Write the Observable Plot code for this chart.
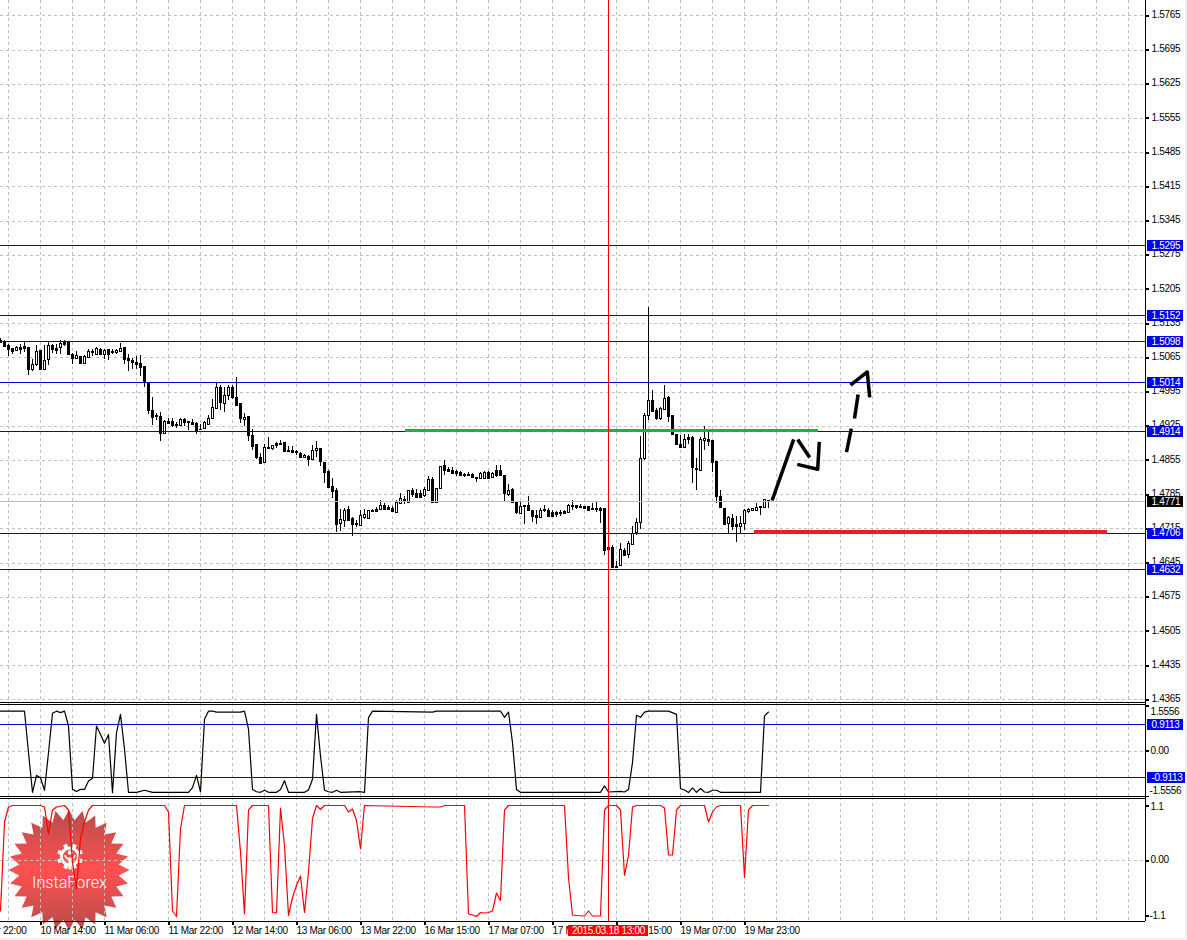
<!DOCTYPE html>
<html><head><meta charset="utf-8">
<script src="https://cdn.jsdelivr.net/npm/d3@7"></script>
<script src="https://cdn.jsdelivr.net/npm/@observablehq/plot@0.6"></script>
<style>
html,body{margin:0;padding:0;background:#fff;overflow:hidden}
#root{position:relative;width:1187px;height:940px;overflow:hidden;background:#fff}
#root svg.p{position:absolute;left:0}
.strip{position:absolute;background:#f0f0f0}
</style></head><body>
<div id="root">
<div class="strip" style="left:0;top:938px;width:1187px;height:2px"></div>
<div class="strip" style="left:1185px;top:0;width:2px;height:940px"></div>
</div>
<script>
// Candle values, in pips above 1.4000, one per hourly bar
const openPips=[1101,1097,1090,1084,1081,1086,1088,1087,1042,1051,
1079,1042,1061,1090,1084,1086,1097,1098,1072,1063,
1068,1053,1066,1078,1072,1082,1071,1082,1077,1076,
1077,1086,1064,1059,1055,1054,1048,1014,958,946,
945,911,935,935,929,926,939,935,933,931,
919,920,929,941,961,1005,971,988,1005,984,
971,939,944,907,887,862,850,882,880,889,
890,892,875,876,874,870,860,864,856,875,
880,851,833,802,794,726,732,755,737,726,
722,739,737,752,754,754,763,759,757,749,
767,775,769,794,787,787,783,794,816,769,
798,844,836,834,832,830,826,827,826,821,
819,819,830,820,834,835,825,786,796,769,
747,763,763,753,743,738,754,753,748,748,
749,750,748,763,762,761,761,761,756,757,
756,757,677,677,637,640,671,663,682,707,
728,858,947,978,958,940,959,984,947,909,
888,882,901,902,839,834,895,898,896,853,
781,757,725,736,723,719,725,750,752,753,
760,759,773];
const closePips=[1096,1089,1082,1078,1087,1083,1085,1042,1051,1077,
1041,1059,1090,1082,1081,1095,1093,1071,1064,1070,
1053,1068,1077,1075,1085,1072,1079,1072,1075,1080,
1084,1062,1059,1055,1051,1046,1014,958,942,944,
911,935,931,926,926,939,932,933,929,917,
918,933,941,963,1004,973,988,1004,984,968,
940,943,905,884,860,849,882,879,886,886,
887,873,873,872,871,862,866,856,876,880,
853,831,800,792,723,734,752,733,724,723,
742,745,752,750,751,763,755,755,750,769,
777,771,793,786,780,780,795,816,769,797,
842,835,832,828,829,825,825,825,820,819,
828,830,819,828,825,825,787,793,769,749,
761,761,752,741,739,753,752,741,741,744,
747,746,763,760,759,759,757,753,754,754,
752,671,673,635,635,673,660,685,705,728,
859,947,978,956,940,961,982,944,908,887,
882,898,898,840,836,897,899,893,851,782,
759,724,738,719,719,726,753,755,757,759,
759,775,771];
const highPips=[1104,1100,1093,1085,1089,1092,1097,1087,1062,1090,
1081,1090,1097,1092,1093,1100,1101,1098,1074,1078,
1068,1070,1083,1083,1086,1085,1083,1082,1082,1082,
1094,1087,1071,1064,1067,1070,1048,1014,984,951,
953,937,941,940,932,941,941,935,939,932,
929,935,946,980,1014,1008,1004,1008,1008,1025,
971,951,944,918,887,869,888,901,886,891,
896,892,884,883,875,872,868,865,885,894,
880,851,834,819,798,754,757,761,738,733,
753,754,753,754,758,772,767,763,760,772,
787,782,793,797,796,793,799,823,820,797,
842,854,840,840,834,832,828,830,828,821,
831,832,832,830,845,845,825,806,798,769,
769,763,782,753,753,756,763,756,752,750,
752,753,764,772,763,764,761,761,767,769,
758,757,678,680,648,684,675,689,719,736,
903,951,1167,999,961,963,1009,986,947,909,
907,909,909,903,859,901,925,914,896,853,
793,757,741,744,740,740,755,757,757,767,
761,775,774];
const lowPips=[1094,1086,1068,1072,1077,1072,1075,1028,1038,1047,
1040,1041,1050,1074,1072,1071,1089,1070,1052,1063,
1052,1052,1065,1067,1071,1070,1062,1060,1071,1072,
1075,1052,1036,1042,1042,1027,1004,948,926,936,
893,909,929,922,921,925,925,916,926,909,
917,918,928,939,959,958,954,978,980,966,
931,924,893,875,856,847,849,878,875,879,
886,872,871,869,865,860,858,843,855,862,
843,807,799,778,708,709,717,731,699,717,
720,735,735,748,748,752,753,752,749,746,
765,765,767,779,780,780,779,793,767,767,
797,825,830,826,823,823,821,823,819,810,
817,818,817,819,820,825,771,782,768,745,
744,724,750,727,723,737,749,738,738,738,
741,745,746,753,754,757,757,752,752,749,
726,661,672,633,633,639,658,654,681,701,
714,854,937,954,936,936,957,932,907,885,
880,881,887,807,794,832,876,883,830,766,
757,723,703,711,688,704,712,746,750,752,
743,759,757];

// Upper oscillator: bar index and value at each vertex
const oscBars=[0,6,7,8,9,10,11,12,13,14,15,16,17,18,19,20,21,22,23,24,25,26,27,28,29,30,31,32,34,36,38,47,48,49,50,51,52,53,54,60,61,62,63,64,65,66,67,69,70,71,72,76,77,78,79,80,81,82,83,84,85,90,91,92,93,108,109,125,126,127,128,129,130,150,151,152,155,156,157,158,159,160,161,162,167,169,170,171,172,173,174,175,176,177,178,179,180,190,191,192];
const oscVals=[1.38,1.38,-.05,-1.41,-.83,-.91,-1.34,-.05,1.31,1.38,1.33,1.38,.87,-1.31,-1.38,-1.31,-1.31,-1.02,-.93,.87,.58,.28,.58,-1.42,.64,1.27,.07,-1.41,-1.41,-1.34,-1.41,-1.41,-1.25,-.83,-1.40,1.10,1.38,1.38,1.35,1.35,1.38,.76,-1.31,-1.39,-1.41,-1.34,-1.41,-1.41,-1.31,-1.01,-1.41,-1.41,-1.33,-.96,1.27,-.16,-1.34,-1.39,-1.41,-1.34,-1.41,-1.39,-1.41,1.16,1.38,1.35,1.38,1.38,1.17,1.35,.30,-1.31,-1.41,-1.41,-1.19,-1.40,-1.38,-1.40,-1.31,-.39,1.24,1.17,1.35,1.38,1.38,1.27,-1.28,-1.33,-1.42,-1.26,-1.41,-1.28,-1.40,-1.41,-1.34,-1.34,-1.41,-1.41,1.22,1.35];

// Lower oscillator: bar index and value at each vertex
const redBars=[0,1,2,3,10,11,12,13,14,16,17,18,19,20,21,22,23,41,42,43,44,45,46,59,60,61,62,63,67,68,69,70,71,72,73,74,75,76,77,78,79,80,81,86,87,88,89,90,91,108,110,111,116,117,118,119,120,121,122,123,124,125,126,127,141,142,143,144,146,147,148,150,151,152,154,155,156,157,158,159,165,166,167,168,169,170,176,177,178,179,180,185,186,187,188,192];
const redVals=[-1.01,.77,1.07,1.10,1.10,1.07,.54,1.01,1.07,1.10,1.01,-.03,-.57,.44,.77,1.01,1.10,1.10,.97,-1.01,-1.12,.64,1.10,1.10,.17,-1.07,1.01,1.10,1.10,-1.04,-1.05,1.05,.30,-1.10,-.74,-.50,-.31,-1.04,-.23,.84,1.10,1.02,1.10,1.10,.97,1.03,.80,.23,1.10,1.07,1.07,1.10,1.10,-1.07,-1.09,-1.12,-1.04,-1.05,-1.04,-1.01,-.65,-.80,1.01,1.10,1.10,-.34,-1.09,-1.10,-1.11,-1.01,-1.11,-1.11,1.01,1.10,1.10,1.01,-.30,.10,1.07,1.10,1.10,1.05,.11,.11,1.01,1.10,1.10,.77,.97,1.07,1.10,1.10,-.34,1.01,1.10,1.10];

// Axes
const priceTicks=[1.5765,1.5695,1.5625,1.5555,1.5485,1.5415,1.5345,1.5275,1.5205,1.5135,1.5065,1.4995,1.4925,1.4855,1.4785,1.4715,1.4645,1.4575,1.4505,1.4435,1.4365];
const timeBars=[-6,10,26,42,58,74,90,106,122,138,154,170,186];
const timeLabels=["9 Mar 22:00","10 Mar 14:00","11 Mar 06:00","11 Mar 22:00","12 Mar 14:00","13 Mar 06:00","13 Mar 22:00","16 Mar 15:00","17 Mar 07:00","17 Mar 23:00","18 Mar 15:00","19 Mar 07:00","19 Mar 23:00"];

// Levels and annotations
const levels=[1.5295,1.5152,1.5098,1.5014,1.4914,1.4706,1.4632];
const lastPrice=1.4771;
const oscLevels=[0.9113,-0.9113];
const selectedBar=152, selectedLabel="2015.03.18 13:00";
const greenLevel={from:101.25,to:204.5,price:1.4917};
const redLevel={from:188.5,to:276.75,price:1.4709};
const sketchBars=[[192.9,198.3],[199.3,202.3],[199.2,204.3,204.7],[211.5,212.7],[213.5,214.4],[212.5,216.7,217.3]];
const sketchPips=[[773,898],[898,861],[847,837,893],[872,920],[941,990],[1009,1036,984]];

// Shared layout
const XMAX=1187/4, AXIS=1145/4, gridBars=d3.range(2,290,8);
const font="'Liberation Sans',Arial,sans-serif";
const BLUE="#0000dd", BOX="#0000f0", GRID="#c0c0c0", DASH="3,3";
const price=v=>1.4+v/10000;
const bars=openPips.map((o,i)=>({i,o:price(o),c:price(closePips[i]),h:price(highPips[i]),l:price(lowPips[i])}));
const crisp={shapeRendering:"crispEdges"};
const vGrid=()=>Plot.ruleX(gridBars,{stroke:GRID,strokeDasharray:DASH,...crisp});
const hGrid=t=>Plot.ruleY(t,{x1:0,x2:AXIS,stroke:GRID,strokeDasharray:DASH,...crisp});
const edge=y=>Plot.ruleY([y],{x1:0,x2:AXIS,stroke:"#000",...crisp});
const axisLine=()=>Plot.ruleX([AXIS],{stroke:"#000",...crisp});
const cursor=()=>Plot.ruleX([selectedBar],{stroke:"#ff0000",...crisp});
const tickR=t=>Plot.ruleY(t,{x1:AXIS,x2:AXIS+0.9,stroke:"#000",strokeWidth:2,...crisp});
const box=(vals,color,w=1183/4)=>Plot.ruleY(vals,{x1:1147/4,x2:w,stroke:color,strokeWidth:11,...crisp});
const boxText=(vals,fmt)=>Plot.text(vals,{x:1151/4,y:d=>d,text:fmt,textAnchor:"start",fill:"#fff"});
const style={background:"transparent",fontFamily:font,fontSize:"10px",letterSpacing:"-0.3px"};
const root=document.getElementById("root");

function add(top,height,marginBottom,domain,range,marks){
  const svg=Plot.plot({width:1187,height,margin:0,marginBottom,
    x:{domain:[0,XMAX],range:[0,1187],axis:null},
    y:{domain,range,axis:null},style,marks});
  svg.classList.add("p");svg.style.position="absolute";svg.style.top=top+"px";svg.style.left="0";
  root.appendChild(svg);
}

// Brand badge behind the chart
(function(){
  const cx=69,cy=870,R=60.5,r=50,n=28;let pts=[];
  for(let k=0;k<n*2;k++){const a=Math.PI*k/n-Math.PI/2,q=k%2?r:R;pts.push((cx+q*Math.cos(a)).toFixed(1)+","+(cy+q*Math.sin(a)).toFixed(1));}
  const gx=70,gy=856.5;let teeth="";
  for(let k=0;k<8;k++){teeth+=`<rect x="${gx-2}" y="${gy-13}" width="4" height="4" fill="#fff" transform="rotate(${k*45+22.5} ${gx} ${gy})"/>`;}
  const d=document.createElement("div");
  d.innerHTML=`<svg width="1187" height="940" style="position:absolute;left:0;top:0"><defs><linearGradient id="g" x1="0" y1="0" x2="0" y2="1"><stop offset="0" stop-color="#b84c4c"/><stop offset=".5" stop-color="#ff5050"/><stop offset="1" stop-color="#b84c4c"/></linearGradient></defs>
  <polygon points="${pts.join(" ")}" fill="url(#g)"/>${teeth}
  <circle cx="${gx}" cy="${gy}" r="8.6" fill="none" stroke="#fff" stroke-width="3"/>
  <circle cx="${gx}" cy="${gy-4}" r="2.2" fill="#fff"/>
  <path d="M${gx-5} ${gy-1.5}Q${gx-4.5} ${gy+2.5} ${gx} ${gy+2.5}Q${gx+4.5} ${gy+2.5} ${gx+5} ${gy-1.5}" fill="none" stroke="#fff" stroke-width="1.8"/>
  <rect x="${gx-1.6}" y="${gy+1}" width="3.2" height="12" fill="#fff"/>
  <text x="69.5" y="887.5" text-anchor="middle" font-family="Roboto,sans-serif" font-weight="300" font-size="16.2" fill="#fff">InstaForex</text></svg>`;
  root.appendChild(d.firstChild);
})();

// Main price panel
const PPX=4886, P0=1.5765+15.3/PPX, P1=1.5765-(702-15.3)/PPX;
add(0,703,0,[P0,P1],[0,702],[
  vGrid(),hGrid(priceTicks),
  Plot.ruleX(bars,{x:"i",y1:"l",y2:"h",stroke:"#000",...crisp}),
  Plot.rect(bars.filter(d=>d.c<d.o),{x1:d=>d.i-.25,x2:d=>d.i+.25,y1:"o",y2:"c",fill:"#000",stroke:"#000",dx:.5,dy:.5,...crisp}),
  Plot.rect(bars.filter(d=>d.c>=d.o),{x1:d=>d.i-.25,x2:d=>d.i+.25,y1:"o",y2:"c",fill:"#fff",stroke:"#000",dx:.5,dy:.5,...crisp}),
  Plot.ruleY([lastPrice],{x1:0,x2:AXIS,stroke:GRID,...crisp}),
  Plot.ruleY(levels,{x1:0,x2:AXIS,stroke:BLUE,...crisp}),
  Plot.ruleY([greenLevel],{x1:"from",x2:"to",y:"price",stroke:"#22ac4c",strokeWidth:3,...crisp}),
  Plot.ruleY([redLevel],{x1:"from",x2:"to",y:"price",stroke:"#ed1c24",strokeWidth:4,...crisp}),
  ...sketchBars.map((b,k)=>Plot.line(b.map((x,j)=>({x,y:price(sketchPips[k][j])})),{x:"x",y:"y",stroke:"#000",strokeWidth:3.5,strokeLinecap:"butt"})),
  cursor(),axisLine(),tickR(priceTicks),
  Plot.text(priceTicks,{x:1151/4,y:d=>d,dy:-1,text:d=>d.toFixed(4),textAnchor:"start",fill:"#000"}),
  box(levels,BOX),boxText(levels,d=>d.toFixed(4)),
  box([lastPrice],"#000"),boxText([lastPrice],d=>d.toFixed(4)),
  edge(P1)
]);

// Upper oscillator panel
const A0=(47.8-1)/29.08, A1=-(93-47.8)/29.08;
add(703,94,0,[A0,A1],[1,93],[
  vGrid(),hGrid([0]),
  Plot.ruleY(oscLevels,{x1:0,x2:AXIS,stroke:BLUE,...crisp}),
  Plot.lineY(oscVals,{x:oscBars,stroke:"#000",strokeWidth:1.2}),
  edge(A0),edge(A1),cursor(),axisLine(),tickR([1.5556,0,-1.5556]),
  Plot.text([1.5556],{x:1150/4,y:d=>d,dy:6,text:["1.5556"],textAnchor:"start",fill:"#000"}),
  Plot.text([0],{x:1150/4,y:d=>d,dy:-1,text:["0.00"],textAnchor:"start",fill:"#000"}),
  Plot.text([-1.5556],{x:1149/4,y:d=>d,dy:-6,text:["-1.5556"],textAnchor:"start",fill:"#000"}),
  box([0.9113],BOX),boxText([0.9113],d=>d.toFixed(4)),
  box([-0.9113],BOX,1185/4),boxText([-0.9113],d=>d.toFixed(4))
]);

// Lower oscillator panel, with the time axis
const B0=1.24, B1=-1.22, TIMEY=-1.406;
add(797,143,19,[B0,B1],[1,124],[
  vGrid(),hGrid([0]),
  Plot.lineY(redVals,{x:redBars,stroke:"#ff0000",strokeWidth:1.2}),
  edge(B0),edge(B1),cursor(),axisLine(),tickR([1.1,0,-1.1]),
  Plot.text([1.1],{x:1150/4,y:d=>d,dy:1,text:["1.1"],textAnchor:"start",fill:"#000"}),
  Plot.text([0],{x:1150/4,y:d=>d,dy:-1,text:["0.00"],textAnchor:"start",fill:"#000"}),
  Plot.text([-1.1],{x:1149/4,y:d=>d,text:["-1.1"],textAnchor:"start",fill:"#000"}),
  Plot.ruleX(timeBars,{y1:B1,y2:B1-.08,stroke:"#000",strokeWidth:2,...crisp}),
  Plot.text(timeBars,{x:d=>d,y:TIMEY,text:(d,i)=>timeLabels[i],textAnchor:"start",fill:"#000"}),
  Plot.ruleY([TIMEY],{x1:selectedBar-10,x2:selectedBar+9.9,stroke:"#ff0000",strokeWidth:11,...crisp}),
  Plot.text([selectedBar],{x:d=>d,y:TIMEY,text:[selectedLabel],textAnchor:"middle",fill:"#fff"})
]);
</script>
</body></html>
